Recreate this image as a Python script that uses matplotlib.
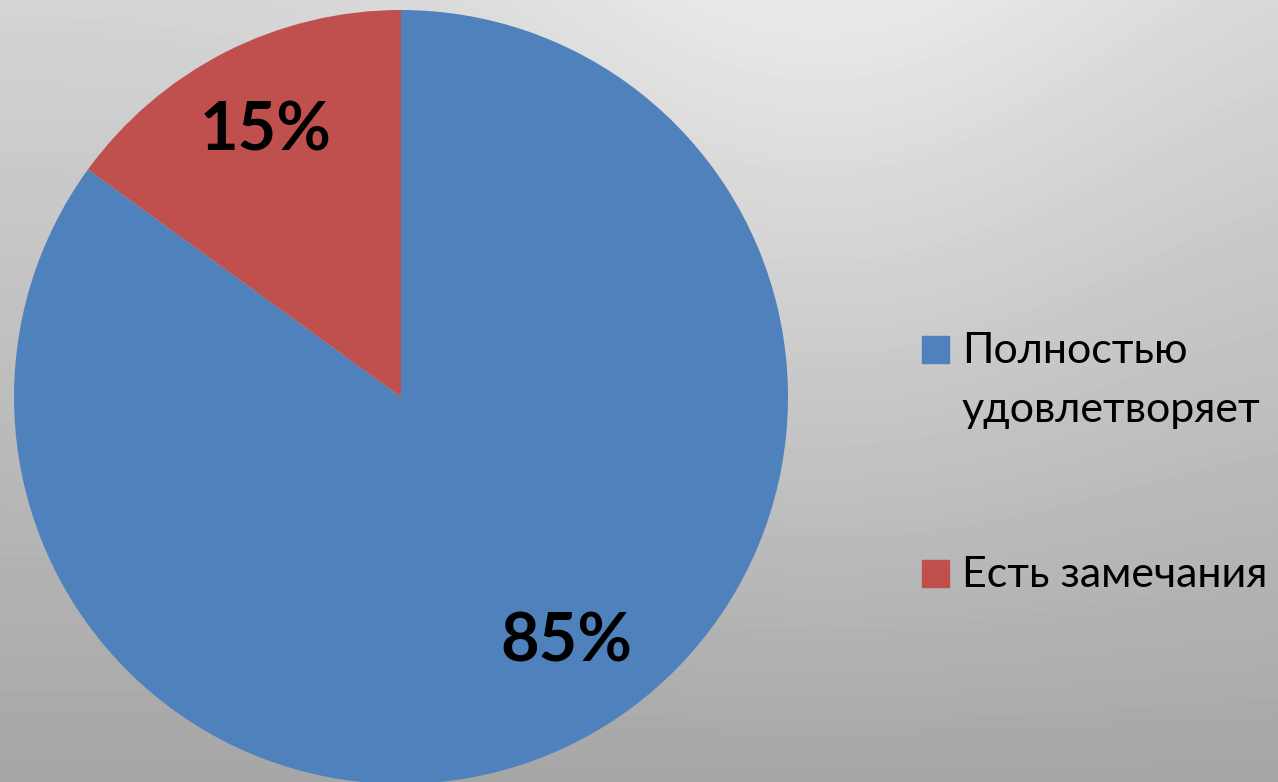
import matplotlib.pyplot as plt
import numpy as np
from matplotlib.patches import Rectangle

labels = ['Полностью\nудовлетворяет', 'Есть замечания']
values = [85, 15]
colors = ['#4F81BD', '#C0504D']

W, H = 1278, 782
fig = plt.figure(figsize=(W / 100, H / 100), dpi=100)

# background: light at the top (brightest right of centre), darker towards the bottom
bg = fig.add_axes([0, 0, 1, 1])
xs = np.arange(W)
ys = np.arange(H)[:, None]
top = 212 + 22 * np.exp(-((xs - 820) / 360.0) ** 2)
bottom = 166.0
shade = bottom + (top[None, :] - bottom) * (1 - ys / H)
bg.imshow(shade / 255.0, cmap='gray', vmin=0, vmax=1, aspect='auto', interpolation='bilinear')
bg.set_axis_off()

ax = fig.add_axes([14 / W, -2 / H, 774 / W, 774 / H])
wedges, texts, autotexts = ax.pie(
    values, colors=colors, startangle=90, counterclock=False,
    autopct='%1.0f%%', pctdistance=0.77, radius=1.0,
    wedgeprops={'linewidth': 0},
    textprops={'fontsize': 48, 'fontweight': 'bold', 'family': 'Lato', 'color': 'black'})

# Excel "best fit" puts the big slice's label a bit nearer the right edge
w = wedges[0]
mid = np.deg2rad((w.theta1 + w.theta2) / 2 + 7)
autotexts[0].set_position((0.765 * np.cos(mid), 0.765 * np.sin(mid)))

ax.set_xlim(-1, 1)
ax.set_ylim(-1, 1)
ax.set_aspect('equal')
ax.set_axis_off()

# legend drawn by hand so the square sits on the first line like the original
entry_baselines = [363, 587]
line_gap = 59
for lab, col, base in zip(labels, colors, entry_baselines):
    fig.patches.append(Rectangle((922 / W, 1 - base / H), 27 / W, 27 / H,
                                 transform=fig.transFigure, color=col))
    for i, line in enumerate(lab.split('\n')):
        fig.text(962 / W, 1 - (base + i * line_gap) / H, line, fontsize=31,
                 family='Lato', va='baseline', ha='left', color='black')

fig.savefig('out.png', dpi=100)
